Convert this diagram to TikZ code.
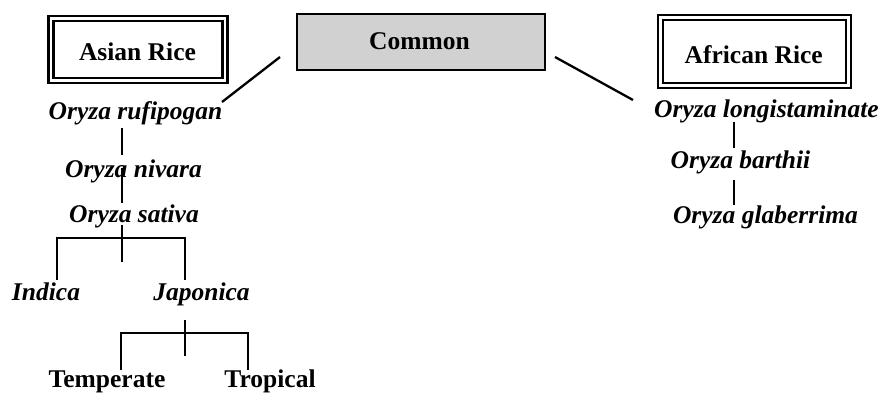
\documentclass[tikz,border=0pt]{standalone}
\usepackage{fontspec}
\setmainfont{Liberation Serif}
\begin{document}
\begin{tikzpicture}[x=1pt, y=-1pt, line width=2.3pt,
  lbl/.style={font=\fontsize{25.5}{30}\selectfont\bfseries, anchor=base, inner sep=0pt},
  sp/.style={font=\fontsize{25.5}{30}\selectfont\bfseries\itshape, anchor=base, inner sep=0pt},
  frame/.style={draw, double, double distance=2.6pt, line width=2.3pt, inner sep=0pt},
  greybox/.style={draw, fill=black!18, line width=2pt, inner sep=0pt}]
\useasboundingbox (0,0) rectangle (882,394);

% header boxes
\node[frame, minimum width=174pt, minimum height=62pt] (asianbox) at (138,49.25) {};
\node[greybox, minimum width=248pt, minimum height=56pt] (commonbox) at (421,42) {};
\node[frame, minimum width=188pt, minimum height=68pt] (africanbox) at (754.5,51.5) {};
\node[lbl] (asian) at (137.5,60) {Asian Rice};
\node[lbl] (common) at (419.5,49) {Common};
\node[lbl] (african) at (753.7,63.3) {African Rice};

% Asian lineage
\node[sp] (rufi) at (135.5,119.5) {Oryza rufipogan};
\node[sp] (niva) at (133.5,177) {Oryza nivara};
\node[sp] (sati) at (134,222) {Oryza sativa};
\node[sp] (indi) at (46,300) {Indica};
\node[sp] (japo) at (201.5,300) {Japonica};
\node[lbl] (temp) at (107,387.5) {Temperate};
\node[lbl] (trop) at (270,387.5) {Tropical};

% African lineage
\node[sp] (long) at (766.5,117) {Oryza longistaminate};
\node[sp] (bart) at (740.5,168) {Oryza barthii};
\node[sp] (glab) at (765.5,223) {Oryza glaberrima};

% connector end points
\coordinate (cl) at (280,57);
\coordinate (rl) at (222,102);
\coordinate (cr) at (555,57);
\coordinate (lr) at (633,100);

\coordinate (r1) at (122,128);  \coordinate (n1) at (122,155);
\coordinate (n2) at (122,168);  \coordinate (s1) at (122,203);
\coordinate (s2) at (122,225);  \coordinate (s3) at (122,262);
\coordinate (hl) at (57,238);   \coordinate (hr) at (185,238);
\coordinate (il) at (57,280);   \coordinate (jl) at (185,280);
\coordinate (j1) at (185,320);  \coordinate (j2) at (185,356);
\coordinate (tl) at (121,333);  \coordinate (tr) at (248,333);
\coordinate (te) at (121,370);  \coordinate (tp) at (248,370);

\coordinate (l1) at (734,122);  \coordinate (b1) at (734,148);
\coordinate (b2) at (734,180);  \coordinate (g1) at (734,205);

% connectors
\draw (cl) -- (rl);
\draw (cr) -- (lr);
\draw (r1) -- (n1);
\draw (n2) -- (s1);
\draw (s2) -- (s3);
\draw (il) -- (hl) -- (hr) -- (jl);
\draw (j1) -- (j2);
\draw (te) -- (tl) -- (tr) -- (tp);
\draw (l1) -- (b1);
\draw (b2) -- (g1);
\end{tikzpicture}
\end{document}
